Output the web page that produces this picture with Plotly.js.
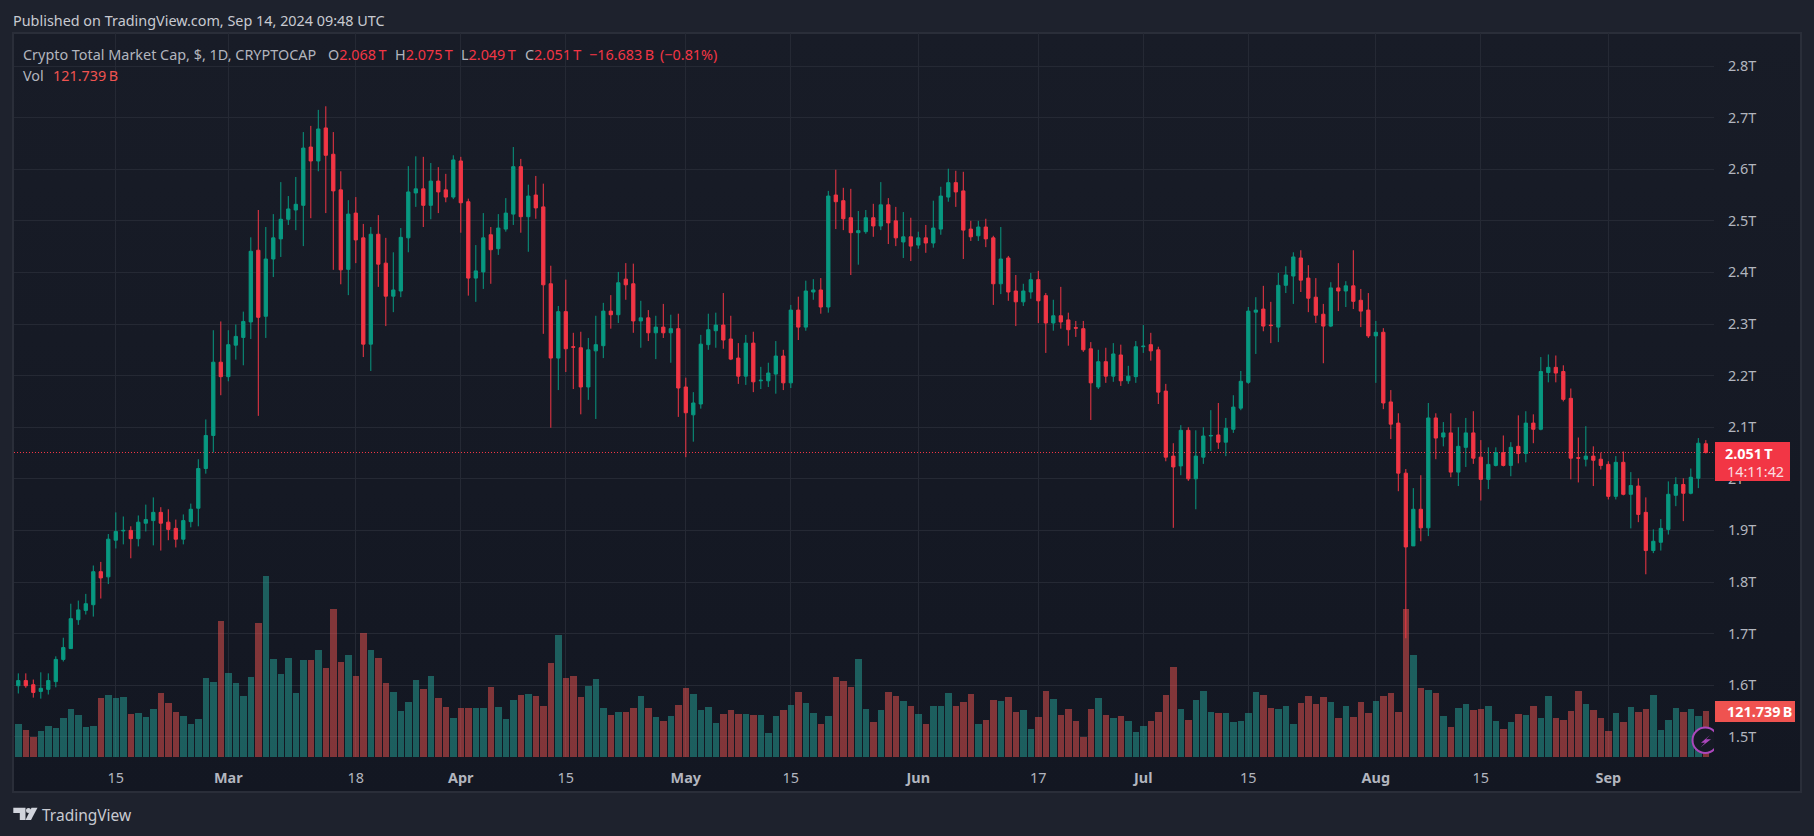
<!DOCTYPE html>
<html>
<head>
<meta charset="utf-8">
<script src="https://cdn.plot.ly/plotly-3.0.1.min.js"></script>
<style>
	html, body { margin: 0; padding: 0; background: #1e222d; overflow: hidden; }
	#pane { position: absolute; left: 13px; top: 33px; width: 1788px; height: 759px; background: linear-gradient(#181c27, #131722); }
	#chart { position: absolute; left: 0; top: 0; width: 1814px; height: 836px; }
</style>
</head>
<body>
<div id="pane"></div>
<div id="chart"></div>
<script>
// daily candles, first one is 2024-02-02 (values in trillions)
const firstDay = '2024-02-02';

const opens = [
	1.599,1.609,1.601,1.588,1.592,1.607,1.650,1.671,1.727,1.745,
	1.756,1.820,1.810,1.881,1.899,1.900,1.884,1.914,1.919,1.935,
	1.916,1.904,1.883,1.917,1.943,2.020,2.084,2.226,2.198,2.259,
	2.274,2.304,2.443,2.315,2.426,2.465,2.503,2.521,2.530,2.643,
	2.616,2.680,2.629,2.560,2.406,2.515,2.467,2.261,2.474,2.418,
	2.354,2.364,2.467,2.554,2.562,2.530,2.577,2.560,2.546,2.616,
	2.537,2.389,2.401,2.473,2.446,2.484,2.513,2.605,2.508,2.550,
	2.527,2.378,2.234,2.324,2.256,2.254,2.178,2.248,2.258,2.325,
	2.318,2.387,2.378,2.306,2.312,2.283,2.294,2.283,2.291,2.178,
	2.124,2.145,2.260,2.287,2.298,2.271,2.234,2.199,2.263,2.190,
	2.190,2.203,2.238,2.186,2.327,2.294,2.362,2.366,2.333,2.550,
	2.539,2.506,2.477,2.479,2.506,2.490,2.531,2.500,2.459,2.469,
	2.453,2.467,2.457,2.484,2.546,2.574,2.558,2.484,2.471,2.488,
	2.467,2.378,2.428,2.364,2.343,2.362,2.386,2.355,2.302,2.316,
	2.308,2.293,2.291,2.252,2.178,2.227,2.199,2.240,2.190,2.198,
	2.256,2.260,2.250,2.170,2.044,2.025,2.094,2.000,2.042,2.083,
	2.085,2.071,2.096,2.137,2.187,2.323,2.329,2.298,2.294,2.375,
	2.393,2.428,2.389,2.352,2.319,2.296,2.370,2.364,2.374,2.346,
	2.327,2.277,2.284,2.149,2.108,2.011,1.870,1.941,1.905,2.118,
	2.081,2.089,2.013,2.061,2.089,2.042,1.999,2.026,2.051,2.026,
	2.063,2.049,2.108,2.096,2.206,2.216,2.208,2.156,2.041,2.038,
	2.044,2.038,2.028,1.966,2.032,1.970,1.986,1.935,1.861,1.877,
	1.902,1.968,1.989,1.972,2.001,2.068
];

const closes = [
	1.609,1.599,1.586,1.594,1.609,1.650,1.673,1.729,1.746,1.758,
	1.820,1.808,1.883,1.898,1.900,1.884,1.916,1.921,1.935,1.914,
	1.902,1.883,1.919,1.941,2.020,2.084,2.226,2.198,2.260,2.276,
	2.305,2.441,2.313,2.426,2.467,2.503,2.523,2.532,2.641,2.616,
	2.678,2.627,2.558,2.405,2.513,2.463,2.261,2.474,2.416,2.354,
	2.366,2.468,2.556,2.562,2.530,2.577,2.556,2.546,2.618,2.535,
	2.389,2.403,2.467,2.444,2.486,2.515,2.605,2.508,2.548,2.525,
	2.376,2.234,2.324,2.252,2.255,2.178,2.250,2.260,2.325,2.318,
	2.380,2.376,2.306,2.312,2.283,2.294,2.283,2.291,2.176,2.128,
	2.147,2.261,2.289,2.298,2.269,2.232,2.199,2.263,2.188,2.191,
	2.205,2.238,2.186,2.327,2.294,2.364,2.366,2.333,2.548,2.537,
	2.504,2.477,2.481,2.506,2.490,2.531,2.496,2.467,2.469,2.451,
	2.467,2.457,2.486,2.548,2.574,2.556,2.482,2.469,2.488,2.465,
	2.378,2.426,2.362,2.343,2.364,2.386,2.345,2.302,2.316,2.304,
	2.289,2.292,2.250,2.186,2.227,2.199,2.242,2.190,2.199,2.256,
	2.257,2.248,2.168,2.042,2.023,2.094,2.000,2.044,2.083,2.084,
	2.071,2.098,2.139,2.189,2.325,2.327,2.296,2.297,2.375,2.395,
	2.430,2.385,2.350,2.317,2.296,2.370,2.364,2.374,2.344,2.325,
	2.277,2.284,2.147,2.106,2.011,1.868,1.941,1.905,2.118,2.079,
	2.089,2.013,2.063,2.089,2.040,1.999,2.028,2.051,2.026,2.061,
	2.049,2.108,2.096,2.208,2.216,2.205,2.154,2.040,2.040,2.044,
	2.036,2.026,1.966,2.032,1.970,1.987,1.931,1.861,1.879,1.904,
	1.970,1.989,1.972,2.003,2.069,2.051
];

const highs = [
	1.623,1.623,1.611,1.625,1.623,1.656,1.692,1.758,1.764,1.777,
	1.832,1.839,1.893,1.935,1.927,1.908,1.929,1.950,1.964,1.945,
	1.941,1.921,1.931,1.952,2.038,2.115,2.288,2.305,2.288,2.299,
	2.324,2.468,2.521,2.488,2.513,2.575,2.548,2.585,2.672,2.684,
	2.715,2.722,2.672,2.596,2.540,2.546,2.494,2.488,2.511,2.467,
	2.439,2.486,2.606,2.625,2.624,2.612,2.604,2.591,2.627,2.624,
	2.543,2.453,2.515,2.488,2.513,2.544,2.643,2.620,2.570,2.587,
	2.572,2.413,2.335,2.386,2.283,2.285,2.273,2.316,2.341,2.356,
	2.401,2.418,2.417,2.345,2.327,2.316,2.339,2.318,2.320,2.196,
	2.168,2.279,2.320,2.322,2.360,2.316,2.263,2.279,2.285,2.217,
	2.225,2.267,2.250,2.337,2.353,2.384,2.387,2.389,2.558,2.599,
	2.564,2.562,2.519,2.521,2.533,2.575,2.544,2.527,2.517,2.506,
	2.479,2.492,2.539,2.566,2.601,2.597,2.595,2.500,2.500,2.504,
	2.471,2.488,2.432,2.395,2.378,2.399,2.403,2.360,2.347,2.372,
	2.322,2.306,2.306,2.265,2.250,2.254,2.263,2.260,2.219,2.267,
	2.298,2.283,2.256,2.184,2.069,2.104,2.100,2.094,2.100,2.133,
	2.147,2.118,2.162,2.209,2.333,2.352,2.374,2.343,2.399,2.412,
	2.439,2.443,2.414,2.389,2.339,2.381,2.418,2.383,2.443,2.368,
	2.360,2.306,2.292,2.172,2.127,2.019,1.982,2.007,2.147,2.127,
	2.110,2.127,2.100,2.118,2.131,2.075,2.061,2.061,2.084,2.071,
	2.123,2.131,2.125,2.236,2.241,2.239,2.220,2.175,2.080,2.102,
	2.063,2.051,2.034,2.044,2.053,2.013,2.001,1.964,1.902,1.922,
	1.995,2.003,2.001,2.020,2.079,2.075
];

const lows = [
	1.584,1.595,1.576,1.574,1.582,1.596,1.646,1.671,1.717,1.737,
	1.733,1.768,1.796,1.865,1.873,1.846,1.869,1.898,1.871,1.861,
	1.881,1.867,1.873,1.906,1.908,2.010,2.051,2.162,2.189,2.231,
	2.220,2.271,2.122,2.273,2.391,2.430,2.492,2.482,2.451,2.505,
	2.596,2.515,2.405,2.377,2.356,2.418,2.236,2.209,2.372,2.296,
	2.323,2.352,2.439,2.527,2.488,2.503,2.515,2.536,2.542,2.477,
	2.355,2.343,2.368,2.378,2.434,2.479,2.492,2.477,2.440,2.504,
	2.281,2.099,2.172,2.207,2.174,2.125,2.153,2.116,2.234,2.291,
	2.302,2.347,2.283,2.254,2.267,2.232,2.273,2.225,2.120,2.042,
	2.072,2.136,2.250,2.254,2.252,2.230,2.184,2.182,2.168,2.174,
	2.178,2.165,2.172,2.176,2.269,2.287,2.347,2.320,2.322,2.484,
	2.482,2.395,2.415,2.475,2.469,2.482,2.455,2.451,2.428,2.422,
	2.446,2.438,2.448,2.473,2.537,2.527,2.426,2.461,2.461,2.449,
	2.337,2.358,2.345,2.296,2.335,2.349,2.302,2.244,2.287,2.291,
	2.258,2.275,2.246,2.114,2.174,2.186,2.188,2.180,2.184,2.186,
	2.244,2.229,2.145,2.034,1.905,2.007,1.996,1.941,2.029,2.054,
	2.058,2.044,2.089,2.133,2.184,2.242,2.286,2.263,2.265,2.360,
	2.339,2.362,2.323,2.302,2.224,2.294,2.325,2.333,2.329,2.294,
	2.273,2.186,2.135,2.077,1.976,1.691,1.870,1.879,1.889,2.038,
	2.063,2.003,1.986,2.023,2.029,1.958,1.980,2.024,2.024,2.005,
	2.030,2.032,2.069,2.094,2.187,2.187,2.150,1.999,1.993,2.024,
	1.986,2.018,1.960,1.960,1.968,1.904,1.916,1.815,1.856,1.861,
	1.892,1.947,1.918,1.970,1.982,2.049
];

// volume in billions
const volumes = [
	86.4,70.6,52.0,67.9,81.1,75.9,102.3,126.1,110.3,78.5,
	81.1,155.2,163.2,155.2,157.9,112.9,115.5,105.0,126.1,168.5,
	142.0,118.2,107.6,86.4,99.7,208.2,197.6,359.0,221.4,194.9,
	160.5,210.8,353.7,478.0,258.4,218.7,261.1,168.5,255.8,255.8,
	282.2,234.6,390.7,250.5,269.0,213.4,327.2,282.2,261.1,194.9,
	171.1,120.8,144.6,202.9,179.0,213.4,155.2,131.4,102.3,128.8,
	129.7,129.7,129.7,185.2,132.3,100.5,150.8,164.1,166.7,161.4,
	134.9,248.7,322.8,209.0,214.3,158.8,187.9,206.4,129.7,111.1,
	119.1,119.1,129.7,161.4,129.7,105.8,95.3,108.5,137.6,182.6,
	166.7,124.4,132.3,90.0,113.8,124.4,113.8,113.8,111.1,111.1,
	63.5,108.5,124.4,137.6,172.0,142.9,116.4,87.3,108.5,211.7,
	201.1,185.2,259.3,127.0,92.6,124.4,172.0,161.4,148.2,134.9,
	113.8,87.3,134.9,134.9,169.3,134.9,145.5,166.7,87.3,97.9,
	150.8,148.2,158.8,119.1,124.4,74.1,105.8,174.6,153.5,111.1,
	127.0,95.3,52.9,127.0,156.1,111.1,103.2,108.5,95.3,66.2,
	82.0,95.3,119.1,164.1,238.1,127.0,97.9,150.8,174.6,119.1,
	116.4,116.4,92.6,95.3,116.4,172.0,164.1,129.7,127.0,134.9,
	87.3,142.9,161.4,140.2,158.8,145.5,103.2,134.9,105.8,145.5,
	116.4,148.2,161.4,169.3,119.1,391.6,269.9,182.6,177.3,169.3,
	108.5,79.4,129.7,140.2,124.4,127.0,134.9,95.3,74.1,92.6,
	113.8,111.1,134.9,103.2,161.4,103.2,97.9,121.7,174.6,140.2,
	124.4,103.2,68.8,116.4,92.6,132.3,119.1,127.0,164.1,71.4,
	97.9,129.7,119.1,127.0,108.5,121.7
];

const priceTicks = [1.5,1.6,1.7,1.8,1.9,2.0,2.1,2.2,2.3,2.4,2.5,2.6,2.7,2.8];
const priceTickLabels = ['1.5T','1.6T','1.7T','1.8T','1.9T','2T','2.1T','2.2T','2.3T','2.4T','2.5T','2.6T','2.7T','2.8T'];
const dateTicks = ['2024-02-15','2024-03-01','2024-03-18','2024-04-01','2024-04-15','2024-05-01','2024-05-15','2024-06-01','2024-06-17','2024-07-01','2024-07-15','2024-08-01','2024-08-15','2024-09-01'];
const dateTickLabels = ['15','<b>Mar</b>','18','<b>Apr</b>','15','<b>May</b>','15','<b>Jun</b>','17','<b>Jul</b>','15','<b>Aug</b>','15','<b>Sep</b>'];
const lastPrice = 2.051;

const UP = '#089981';
const DOWN = '#f23645';
const VOL_UP = 'rgba(38,166,154,0.5)';
const VOL_DOWN = 'rgba(239,83,80,0.5)';
const TEXT = '#b2b5be';
const FONT = '"Noto Sans", sans-serif';
const TEXT_SIZE = 14.4;

// the plot area sits at these page pixels
const LEFT = 14, RIGHT = 1714, TOP = 33, BOTTOM = 757;
const px = (x) => (x - LEFT) / (RIGHT - LEFT);
const py = (y) => (BOTTOM - y) / (BOTTOM - TOP);

const days = [];
for (var i = 0; i < closes.length; i++) {
	days.push(new Date(Date.parse(firstDay) + i * 864e5).toISOString().slice(0, 10));
}
const volColors = closes.map((c, idx) => (c >= opens[idx] ? VOL_UP : VOL_DOWN));

const volumeTrace = {
	type: 'bar',
	x: days,
	y: volumes,
	yaxis: 'y',
	width: 0.86 * 864e5,
	marker: { color: volColors, line: { width: 0 } },
	hoverinfo: 'skip',
	showlegend: false
};

const candleTrace = {
	type: 'candlestick',
	x: days,
	open: opens,
	high: highs,
	low: lows,
	close: closes,
	yaxis: 'y2',
	whiskerwidth: 0,
	increasing: { line: { color: UP, width: 1 }, fillcolor: UP },
	decreasing: { line: { color: DOWN, width: 1 }, fillcolor: DOWN },
	showlegend: false
};

const label = (x, y, text, size, color) => ({
	xref: 'paper', yref: 'paper', x: px(x), y: py(y),
	xanchor: 'left', yanchor: 'middle', showarrow: false,
	text: text, align: 'left',
	font: { family: FONT, size: size || TEXT_SIZE, color: color || TEXT }
});

const annotations = [
	label(11, 20, 'Published on TradingView.com, Sep 14, 2024 09:48 UTC', TEXT_SIZE, '#c8cad1'),
	label(21, 54, 'Crypto Total Market Cap, $, 1D, CRYPTOCAP'),
	label(326, 54, 'O<span style="color:#f23645">2.068\u2009T</span>'),
	label(393, 54, 'H<span style="color:#f23645">2.075\u2009T</span>'),
	label(459, 54, 'L<span style="color:#f23645">2.049\u2009T</span>'),
	label(523, 54, 'C<span style="color:#f23645">2.051\u2009T</span>'),
	label(587, 54, '\u221216.683\u2009B', TEXT_SIZE, DOWN),
	label(658, 54, '(\u22120.81%)', TEXT_SIZE, DOWN),
	label(21, 75, 'Vol'),
	label(51, 75, '121.739\u2009B', TEXT_SIZE, '#ef5350'),
	label(1723, 453, '<b>2.051\u2009T</b>', TEXT_SIZE, '#ffffff'),
	label(1725, 471, '14:11:42', TEXT_SIZE, '#fbdde0'),
	label(1725, 711, '<b>121.739\u2009B</b>', TEXT_SIZE, '#ffffff'),
	label(40, 815, 'TradingView', 15.5, '#c8cad1')
];

const pxPath = (pts) => 'M' + pts.map((p) => px(p[0]) + ',' + py(p[1])).join('L') + 'Z';

const shapes = [
	// frame round the chart
	{ type: 'rect', xref: 'paper', yref: 'paper', x0: px(13), x1: px(1801), y0: py(33), y1: py(792), line: { color: '#2a2e39', width: 2 }, layer: 'below' },
	// last price line, behind the candles
	{ type: 'line', xref: 'paper', yref: 'y2', x0: 0, x1: 1, y0: lastPrice, y1: lastPrice, line: { color: DOWN, width: 1, dash: '1px,2px' }, layer: 'below' },
	// price and volume tags
	{ type: 'rect', xref: 'paper', yref: 'paper', x0: px(1715), x1: px(1790), y0: py(442), y1: py(481), fillcolor: DOWN, line: { width: 0 } },
	{ type: 'rect', xref: 'paper', yref: 'paper', x0: px(1715), x1: px(1795), y0: py(701), y1: py(722), fillcolor: '#ef5350', line: { width: 0 } },
	// lightning badge, the plot edge cuts it off so a patch covers the overhang
	{ type: 'circle', xref: 'paper', yref: 'paper', x0: px(1692.5), x1: px(1718), y0: py(753), y1: py(727.5), fillcolor: '#161a25', line: { color: '#ab47bc', width: 2 } },
	{ type: 'rect', xref: 'paper', yref: 'paper', x0: px(1714), x1: px(1720), y0: py(755), y1: py(725), fillcolor: '#141823', line: { width: 0 } },
	{ type: 'path', xref: 'paper', yref: 'paper', path: pxPath([[1710,735],[1701,742.7],[1705,742.7],[1700.7,747.3],[1711,739.3],[1706,739.3]]), fillcolor: '#ab47bc', line: { width: 0 } },
	// TradingView logo
	{ type: 'path', xref: 'paper', yref: 'paper', path: pxPath([[13.3,807.7],[25.5,807.7],[25.5,820],[19.8,820],[19.8,813],[13.3,813]]), fillcolor: '#d1d4dc', line: { width: 0 } },
	{ type: 'circle', xref: 'paper', yref: 'paper', x0: px(26), x1: px(31), y0: py(813), y1: py(808), fillcolor: '#d1d4dc', line: { width: 0 } },
	{ type: 'path', xref: 'paper', yref: 'paper', path: pxPath([[31.5,807.7],[37.5,807.7],[31,820],[25.5,820]]), fillcolor: '#d1d4dc', line: { width: 0 } }
];

const layout = {
	width: 1814,
	height: 836,
	margin: { l: LEFT, r: 1814 - RIGHT, t: TOP, b: 836 - BOTTOM, pad: 0 },
	paper_bgcolor: 'rgba(0,0,0,0)',
	plot_bgcolor: 'rgba(0,0,0,0)',
	showlegend: false,
	boxgap: 0.38,
	bargap: 0,
	hovermode: 'closest',
	xaxis: {
		type: 'date',
		range: ['2024-02-01 10:15', '2024-09-15 02:10'],
		tickmode: 'array',
		tickvals: dateTicks,
		ticktext: dateTickLabels,
		ticks: 'outside',
		ticklen: 8,
		tickcolor: 'rgba(0,0,0,0)',
		tickfont: { family: FONT, size: TEXT_SIZE, color: TEXT },
		tickangle: 0,
		showgrid: true,
		gridcolor: '#252934',
		gridwidth: 1,
		zeroline: false,
		showline: false,
		rangeslider: { visible: false }
	},
	yaxis: {
		range: [0, 1916],
		visible: false,
		showgrid: false,
		zeroline: false,
		fixedrange: true
	},
	yaxis2: {
		overlaying: 'y',
		side: 'right',
		range: [1.4609, 2.864],
		tickmode: 'array',
		tickvals: priceTicks,
		ticktext: priceTickLabels,
		ticks: 'outside',
		ticklen: 10,
		tickcolor: 'rgba(0,0,0,0)',
		tickfont: { family: FONT, size: TEXT_SIZE, color: TEXT },
		showgrid: true,
		gridcolor: '#252934',
		gridwidth: 1,
		zeroline: false,
		showline: false
	},
	annotations: annotations,
	shapes: shapes
};

Plotly.newPlot('chart', [volumeTrace, candleTrace], layout, { displayModeBar: false });
</script>
</body>
</html>
